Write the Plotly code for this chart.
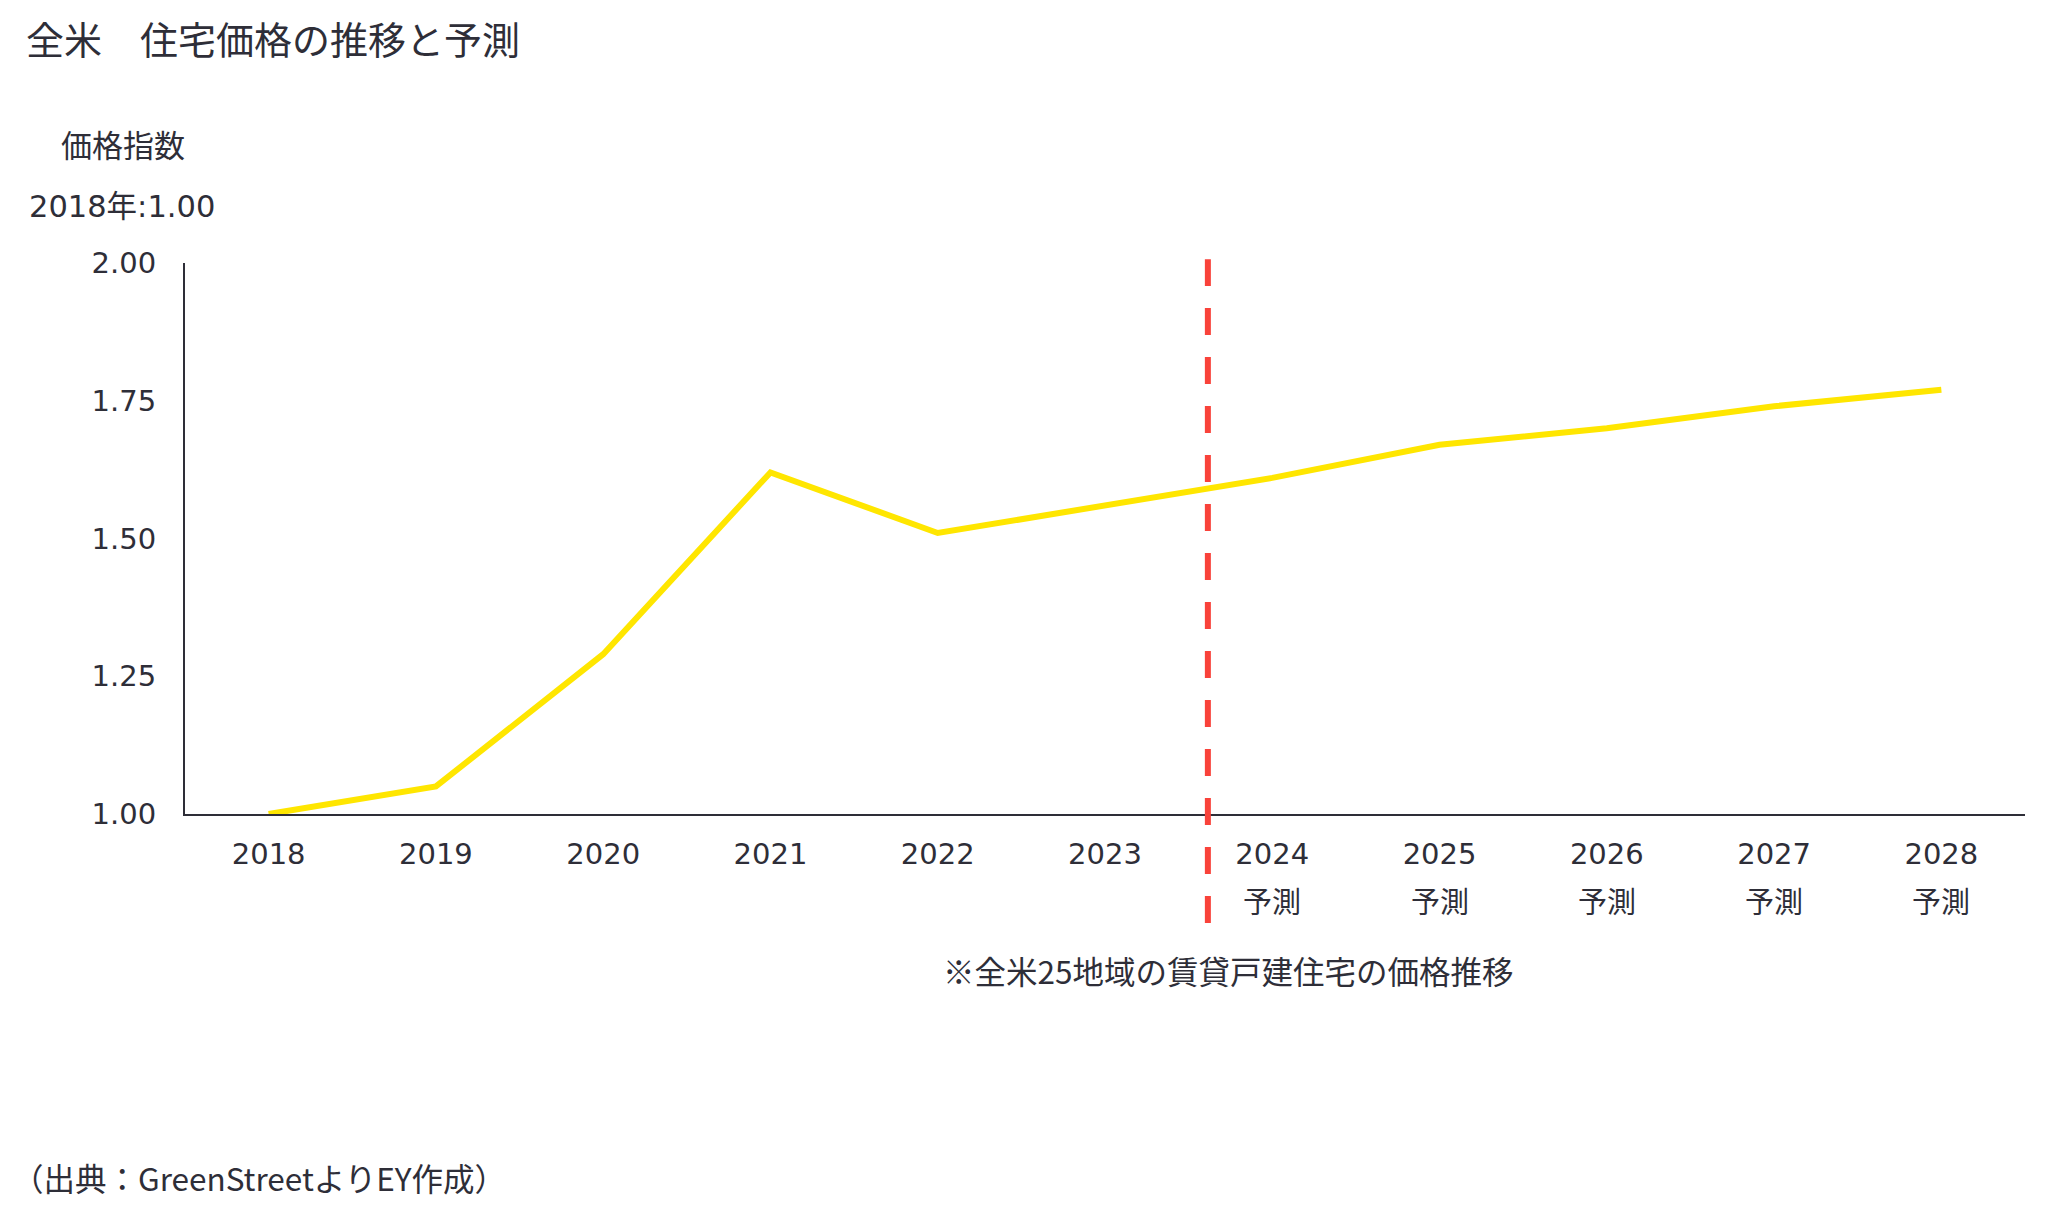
import plotly.graph_objects as go

# ---- data ----
YEARS = ["2018", "2019", "2020", "2021", "2022", "2023", "2024", "2025", "2026", "2027", "2028"]
PRICE_INDEX = [1.00, 1.05, 1.29, 1.62, 1.51, 1.56, 1.61, 1.67, 1.70, 1.74, 1.77]
FORECAST_YEARS = ["2024", "2025", "2026", "2027", "2028"]
FORECAST_LABEL = "予測"
Y_TICKS = [1.00, 1.25, 1.50, 1.75, 2.00]
FORECAST_DIVIDER = 5.615  # between 2023 and 2024 (category index units)

TITLE = "全米　住宅価格の推移と予測"
Y_TITLE_1 = "価格指数"
Y_TITLE_2 = "2018年:1.00"
NOTE = "※全米25地域の賃貸戸建住宅の価格推移"
SOURCE = "（出典：GreenStreetよりEY作成）"

TEXT = "#2E2E38"
CJK = "Noto Sans CJK JP"
NUM = "DejaVu Sans, Noto Sans CJK JP"

X_RANGE = [-0.5, len(YEARS) - 0.5]

fig = go.Figure()
fig.add_trace(go.Scatter(
    x=YEARS, y=PRICE_INDEX, mode="lines",
    line=dict(color="#FFE600", width=6),
    hoverinfo="x+y", showlegend=False,
))

fig.add_shape(
    type="line", xref="x", yref="paper",
    x0=FORECAST_DIVIDER, x1=FORECAST_DIVIDER, y0=-0.198, y1=1.007,
    line=dict(color="#F9423A", width=6, dash="27px,22px"),
    layer="above",
)

# screen layout: plot area spans x 185..2025, y 263..814 px
def px_x(px):
    return (px - 185) / 1840.0

def px_y(py):
    return (814 - py) / 551.0

def cat_to_paper(cat):
    idx = YEARS.index(cat)
    return (idx - X_RANGE[0]) / (X_RANGE[1] - X_RANGE[0])

annotations = []
for yr in FORECAST_YEARS:
    annotations.append(dict(
        x=cat_to_paper(yr), xref="paper", y=px_y(900), yref="paper",
        text=FORECAST_LABEL, showarrow=False, xanchor="center", yanchor="middle",
        font=dict(family=CJK, size=29, color=TEXT),
    ))

def paper_text(text, x, y, size, family=CJK):
    return dict(
        x=x, y=y, xref="paper", yref="paper", text=text, showarrow=False,
        xanchor="left", yanchor="middle",
        font=dict(family=family, size=size, color=TEXT),
    )

annotations.append(paper_text(TITLE, px_x(24), px_y(37), 38))
annotations.append(paper_text(Y_TITLE_1, px_x(59), px_y(143), 31))
annotations.append(paper_text(Y_TITLE_2, px_x(27), px_y(206), 30.5, NUM))
annotations.append(paper_text(NOTE, px_x(941), px_y(970), 31.5))
annotations.append(paper_text(SOURCE, px_x(10), px_y(1177), 31.5))

fig.update_layout(
    width=2040, height=1210,
    margin=dict(l=177, r=23, t=255, b=404),
    paper_bgcolor="white", plot_bgcolor="white",
    showlegend=False,
    annotations=annotations,
    xaxis=dict(
        type="category", range=X_RANGE,
        showline=True, linecolor=TEXT, linewidth=2,
        showgrid=False, zeroline=False, ticks="",
        tickfont=dict(family=NUM, size=29, color=TEXT),
        ticklabelstandoff=13,
    ),
    yaxis=dict(
        range=[1, 2], tickvals=Y_TICKS, tickformat=".2f",
        showline=True, linecolor=TEXT, linewidth=2,
        showgrid=False, zeroline=False, ticks="",
        tickfont=dict(family=NUM, size=29, color=TEXT),
        ticklabelstandoff=21,
    ),
)

fig.write_html("out.html")
